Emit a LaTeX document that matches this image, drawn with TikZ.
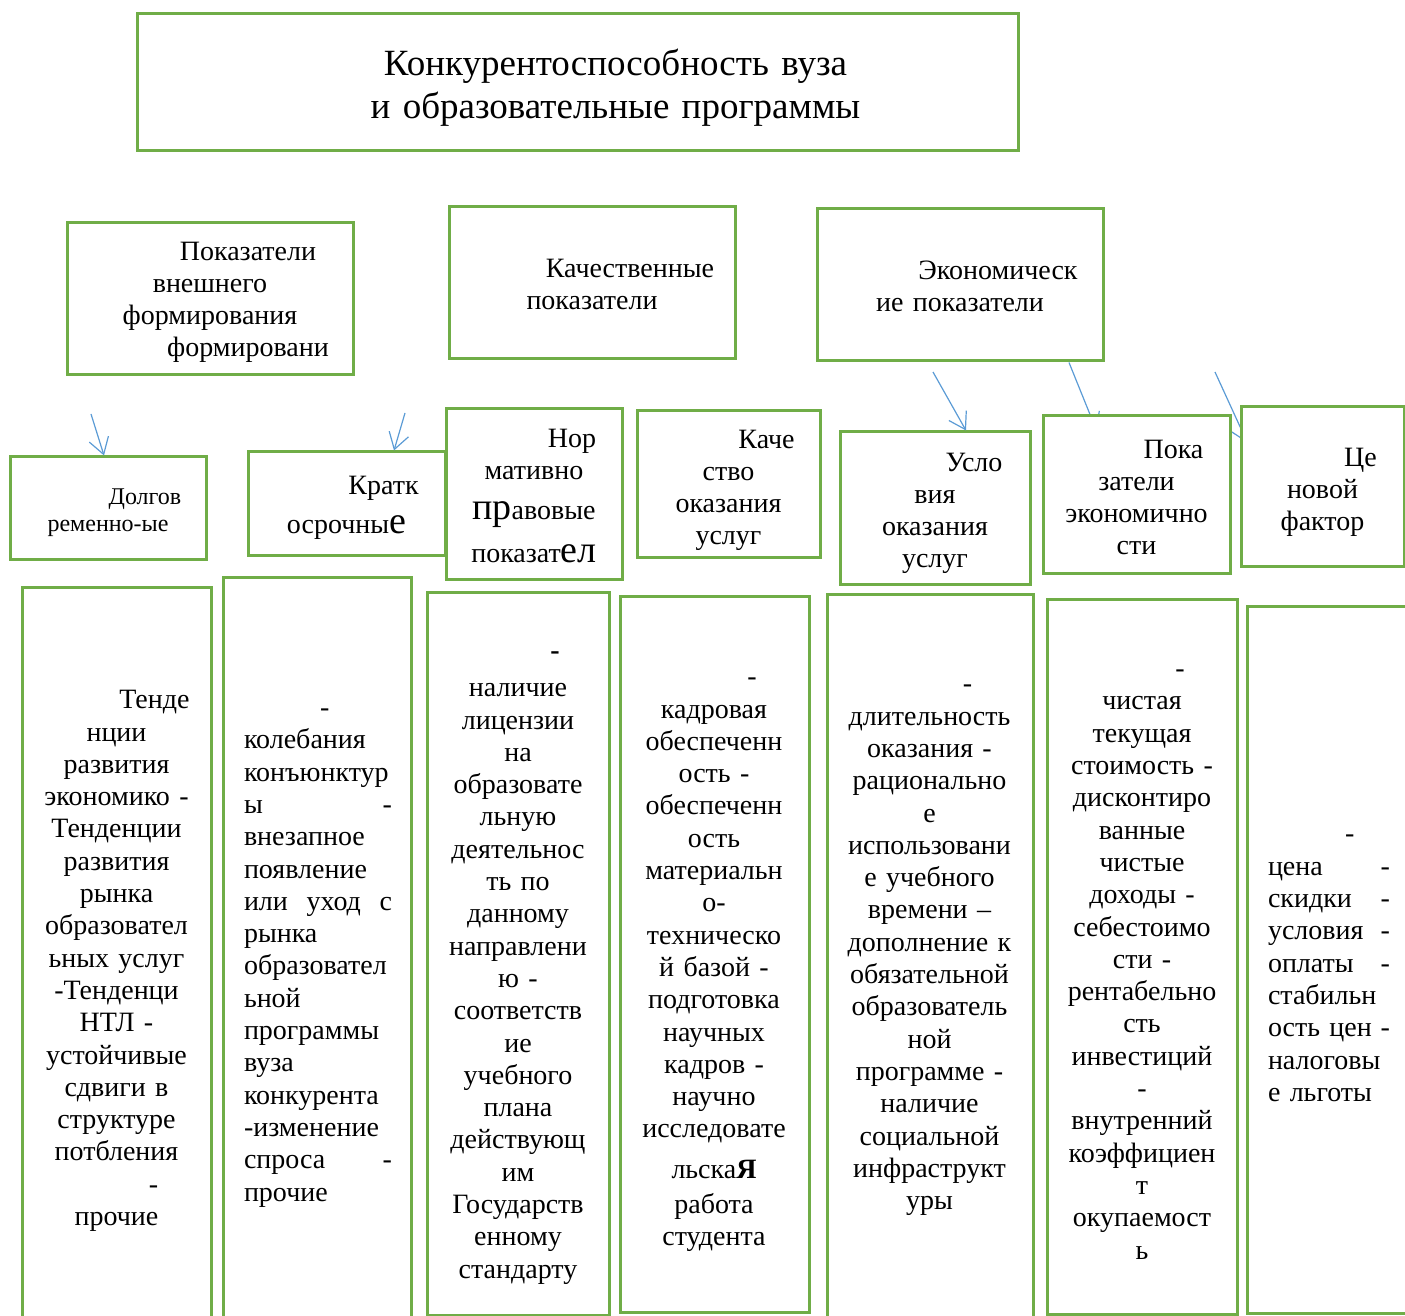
\documentclass[tikz,border=0pt]{standalone}
\usepackage{fontspec}
\setmainfont{Liberation Serif}
\usetikzlibrary{arrows.meta,calc,backgrounds}
\definecolor{boxgreen}{HTML}{70AD47}
\definecolor{arrblue}{HTML}{5B9BD5}
\newcommand\shiftln[1]{\hspace*{#1pt}}
\begin{document}
\begin{tikzpicture}[x=0.5pt,y=-0.5pt,
  gbox/.style={draw=boxgreen,line width=1.5pt,fill=white,inner sep=0pt},
  sz/.style 2 args={minimum width=#1*0.5pt,minimum height=#2*0.5pt},
  tx/.style={inner sep=0pt,align=center},
  big/.style={font=\fontsize{14}{16}\selectfont},
  coltxt/.style={inner sep=0pt,align=center,font=\fontsize{14}{16.15}\selectfont},
  arr/.style={draw=arrblue,line width=0.6pt,-{Straight Barb[length=8pt,width=10pt]}}]
\useasboundingbox (0,0) rectangle (1405,1316);
\clip (0,0) rectangle (1405,1316);

% title
\node[gbox,sz={881}{137}] (title) at (577.5,82.5) {};
\node[tx,text width=400pt,font=\fontsize{18.5}{21.5}\selectfont] (titlet) at (577.5,87.5)
  {\shiftln{38}Конкурентоспособность вуза\\\shiftln{38}и образовательные программы};

% first row
\node[gbox,sz={286}{152}] (ext) at (210,299) {};
\node[tx,text width=135pt,big] (extt) at (210,302)
  {\shiftln{38}Показатели\\внешнего\\формирования\\\shiftln{38}формировани};
\node[gbox,sz={286}{152}] (qual) at (592,283) {};
\node[tx,text width=135pt,big] (qualt) at (592,284)
  {\shiftln{38}Качественные\\показатели};
\node[gbox,sz={286}{152}] (econ) at (960,285) {};
\node[tx,text width=135pt,big] (econt) at (960,286)
  {\shiftln{38}Экономическ\\ие показатели};

% second row
\node[gbox,sz={196}{103}] (long) at (108,508.5) {};
\node[tx,text width=90pt,font=\fontsize{12}{13.5}\selectfont] (longt) at (108,512.5)
  {\shiftln{37}Долгов\\ременно-ые};
\node[gbox,sz={197}{104}] (short) at (346.5,504) {};
\node[tx,text width=90pt,big] (shortt) at (346.5,508)
  {\shiftln{37}Кратк\\[3.5pt]осрочны{\fontsize{19}{19}\selectfont е}};
\node[gbox,sz={176}{171}] (norm) at (534,494.5) {};
\node[tx,text width=84pt,big] (normt) at (534,496.5)
  {\shiftln{38}Нор\\мативно\\[4pt]{\fontsize{19}{19}\selectfont пр}авовые\\[5.5pt]показат{\fontsize{19}{19}\selectfont ел}};
\node[gbox,sz={183}{147}] (qserv) at (728.5,484.5) {};
\node[tx,text width=85pt,big] (qservt) at (728.5,490.5)
  {\shiftln{38}Каче\\ство\\оказания\\услуг};
\node[gbox,sz={190}{153}] (cond) at (935,508.5) {};
\node[tx,text width=88pt,big] (condt) at (935,513.5)
  {\shiftln{39}Усло\\вия\\оказания\\услуг};
\node[gbox,sz={187}{158}] (effic) at (1136.5,495) {};
\node[tx,text width=88pt,big] (effict) at (1136.5,497)
  {\shiftln{37}Пока\\затели\\экономично\\сти};
\node[gbox,sz={163}{160}] (price) at (1322.5,487) {};
\node[tx,text width=78pt,big] (pricet) at (1322.5,492)
  {\shiftln{38}Це\\новой\\фактор};

% columns
\node[gbox,sz={189}{742}] (c1) at (116.5,959) {};
\node[gbox,sz={188}{752}] (c2) at (317,954) {};
\node[gbox,sz={182}{722}] (c3) at (518,954) {};
\node[gbox,sz={189}{715}] (c4) at (714.5,954.5) {};
\node[gbox,sz={206}{735}] (c5) at (930,962.5) {};
\node[gbox,sz={190}{714}] (c6) at (1142,957) {};
\node[gbox,sz={165}{706}] (c7) at (1329.5,960) {};

\node[coltxt,text width=90pt] (t1) at (116.5,961)
  {\shiftln{38}Тенде\\нции\\развития\\экономико -\\Тенденции\\развития\\рынка\\образовател\\ьных услуг\\-Тенденци\\НТЛ -\\устойчивые\\сдвиги в\\структуре\\потбления\\\shiftln{37}-\\прочие};
\node[coltxt,align=left,text width=74pt] (t2) at (318,958)
  {\hspace*{38pt}-\\колебания\\конъюнктур\\ы\hfill -\\внезапное\\появление\\или\hfill уход\hfill с\\рынка\\образовател\\ьной\\программы\\вуза\\конкурента\\-изменение\\спроса\hfill -\\прочие};
\node[coltxt,text width=90pt] (t3) at (518,968)
  {\shiftln{37}\textbf{-}\\[2.4pt]наличие\\лицензии\\на\\образовате\\льную\\деятельнос\\ть по\\данному\\направлени\\ю -\\соответств\\ие\\учебного\\плана\\действующ\\им\\Государств\\енному\\стандарту};
\node[coltxt,text width=90pt] (t4) at (714,965)
  {\shiftln{38}-\\кадровая\\обеспеченн\\ость -\\обеспеченн\\ость\\материальн\\о-\\техническо\\й базой -\\подготовка\\научных\\кадров -\\научно\\исследовате\\[4pt]льска\textbf{Я}\\[1.5pt]работа\\студента};
\node[coltxt,text width=100pt] (t5) at (929.5,950.5)
  {\shiftln{38}-\\длительность\\оказания -\\рационально\\е\\использовани\\е учебного\\времени –\\дополнение к\\обязательной\\образователь\\ной\\программе -\\наличие\\социальной\\инфраструкт\\уры};
\node[coltxt,text width=95pt] (t6) at (1142,964.5)
  {\shiftln{38}-\\чистая\\текущая\\стоимость -\\дисконтиро\\ванные\\чистые\\доходы -\\себестоимо\\сти -\\рентабельно\\сть\\инвестиций\\-\\внутренний\\коэффициен\\т\\окупаемост\\ь};
\node[coltxt,align=left,text width=61pt] (t7) at (1329,968.5)
  {\hspace*{38.5pt}-\\цена\hfill -\\скидки\hfill -\\условия\hfill -\\оплаты\hfill -\\стабильн\\ость цен\hfill -\\налоговы\\е льготы};

% arrows
\coordinate (a1) at (91,414);
\coordinate (a2) at (405,413);
\coordinate (a3) at (933,372);
\coordinate (a5) at (1215,372);
\draw[arr] (a1) -- ($(long.north)+(-4,0)$);
\draw[arr] (a2) -- ($(short.north)+(47.5,0)$);
\draw[arr] (a3) -- ($(cond.north)+(31,0)$);
\begin{pgfonlayer}{background}
\draw[arr] ($(econ.south)+(109,0)$) -- ($(effic.north)+(-40,16)$);
\draw[arr] (a5) -- ($(price.west)+(8,-44)$);
\end{pgfonlayer}
\end{tikzpicture}
\end{document}
